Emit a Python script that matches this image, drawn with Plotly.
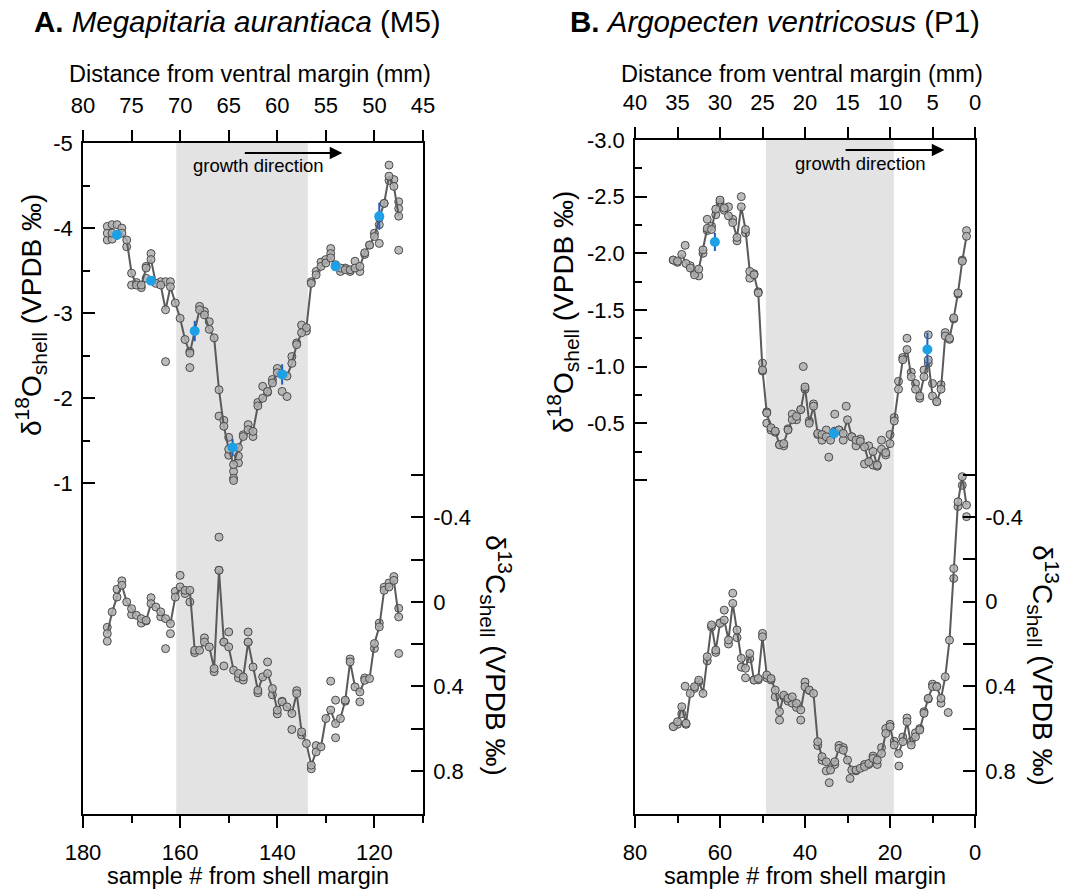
import plotly.graph_objects as go

W, H = 1069, 892

# ---------------- DATA ----------------
# Panel A : Megapitaria aurantiaca (M5) -- sample numbers (line/mean series)
a_samples = list(range(175, 114, -1))
a_d18o = [-3.94, -3.94, -3.92, -3.94, -3.86, -3.47, -3.33, -3.33, -3.53, -3.63,
          -3.35, -3.33, -3.04, -3.31, -3.12, -2.94, -2.69, -2.53, -2.79, -3.04,
          -2.98, -2.81, -2.71, -2.10, -1.67, -1.40, -1.22, -1.42, -1.55, -1.63,
          -1.61, -1.91, -2.00, -2.08, -2.18, -2.30, -2.28, -2.26, -2.41, -2.63,
          -2.77, -2.83, -3.35, -3.45, -3.55, -3.59, -3.65, -3.55, -3.53, -3.51,
          -3.51, -3.53, -3.55, -3.71, -3.80, -3.90, -4.12, -4.29, -4.61, -4.49,
          -4.14]
a_d13c = [0.15, 0.047, -0.023, -0.079, 0.0, 0.032, 0.063, 0.079, 0.087, 0.008,
          0.024, 0.047, 0.079, 0.103, -0.023, -0.071, -0.055, -0.055, 0.229, 0.229,
          0.19, 0.213, 0.315, -0.15, 0.19, 0.213, 0.323, 0.339, 0.355, 0.19,
          0.308, 0.418, 0.355, 0.339, 0.41, 0.512, 0.473, 0.497, 0.528, 0.434,
          0.615, 0.67, 0.773, 0.71, 0.686, 0.552, 0.512, 0.576, 0.552, 0.465,
          0.284, 0.402, 0.426, 0.371, 0.363, 0.197, 0.118, -0.055, -0.071, -0.102,
          0.071]
# replicate measurements (A)
a_rep_o_s = [175, 175, 174, 174, 173, 172, 171, 170, 169, 168, 167, 167, 166, 164, 163, 163,
             162, 158, 158, 156, 155, 154, 152, 151, 150, 150, 149, 149, 148, 148, 147, 146,
             145, 144, 143, 142, 141, 140, 139, 138, 137, 136, 135, 134, 133, 132, 131, 130,
             129, 129, 128, 127, 126, 125, 124, 123, 122, 121, 120, 119, 119, 118, 117, 117,
             116, 115, 115, 115]
a_rep_o_v = [-4.02, -3.86, -4.04, -3.87, -4.04, -4.00, -3.78, -3.33, -3.36, -3.30, -3.41, -3.55,
             -3.70, -3.37, -3.37, -2.43, -3.37, -2.36, -2.55, -3.08, -3.02, -2.90, -1.79, -1.74,
             -1.54, -1.33, -1.14, -1.06, -1.24, -1.32, -1.57, -1.69, -1.55, -1.95, -2.14, -2.07,
             -2.22, -2.35, -2.08, -2.02, -2.49, -2.65, -2.86, -2.79, -3.37, -3.49, -3.60, -3.63,
             -3.76, -3.70, -3.57, -3.49, -3.53, -3.49, -3.61, -3.49, -3.69, -3.80, -3.94, -4.04,
             -3.82, -4.29, -4.56, -4.74, -4.57, -4.31, -4.23, -3.74]
a_rep_c_s = [175, 175, 173, 172, 170, 168, 167, 166, 164, 163, 162, 161, 160, 159, 158, 157,
             155, 153, 152, 152, 149, 151, 151, 150, 148, 147, 146, 146, 144, 142, 141, 140,
             139, 137, 136, 135, 133, 132, 129, 128, 128, 126, 125, 123, 122, 120, 119, 118,
             117, 116, 115, 115]
a_rep_c_v = [0.186, 0.12, -0.06, -0.10, 0.06, 0.10, 0.09, -0.02, 0.07, 0.221, 0.15, -0.05,
             -0.126, -0.04, 0.0, 0.24, 0.17, 0.33, -0.307, -0.15, -0.575, 0.303, 0.19, 0.142,
             0.36, 0.37, 0.142, 0.19, 0.43, 0.284, 0.44, 0.53, 0.47, 0.604, 0.42, 0.63,
             0.79, 0.68, 0.375, 0.643, 0.465, 0.47, 0.27, 0.473, 0.36, 0.22, 0.10, -0.07,
             -0.09, -0.12, 0.03, 0.244]
# standards / mean values with error bars (A, d18O)
a_blue_s = [173, 166, 157, 149.2, 139, 128, 119]
a_blue_v = [-3.92, -3.38, -2.79, -1.42, -2.28, -3.55, -4.14]
a_blue_err = [0.06, 0.05, 0.12, 0.10, 0.12, 0.05, 0.16]

# Panel B : Argopecten ventricosus (P1)
b_samples = list(range(71, 1, -1))
b_d18o = [-1.94, -1.93, -1.99, -1.91, -1.87, -1.81, -1.86, -2.03, -2.22, -2.21,
          -2.39, -2.47, -2.40, -2.33, -2.27, -2.14, -2.41, -2.21, -1.84, -1.81,
          -1.65, -0.97, -0.59, -0.46, -0.43, -0.31, -0.32, -0.44, -0.53, -0.56,
          -0.62, -0.82, -0.50, -0.65, -0.41, -0.40, -0.38, -0.35, -0.43, -0.44,
          -0.41, -0.53, -0.38, -0.35, -0.34, -0.29, -0.16, -0.25, -0.13, -0.27,
          -0.24, -0.32, -0.52, -0.80, -1.06, -1.15, -0.91, -0.80, -0.74, -0.91,
          -1.06, -0.74, -0.69, -0.80, -1.27, -1.25, -1.43, -1.65, -1.93, -2.15]
b_d13c = [0.591, 0.568, 0.497, 0.575, 0.434, 0.402, 0.371, 0.434, 0.26, 0.11,
          0.229, 0.103, 0.087, 0.181, 0.008, 0.134, 0.268, 0.315, 0.245, 0.371,
          0.363, 0.166, 0.347, 0.363, 0.418, 0.52, 0.442, 0.457, 0.45, 0.481,
          0.512, 0.402, 0.418, 0.434, 0.662, 0.733, 0.757, 0.796, 0.757, 0.694,
          0.702, 0.749, 0.796, 0.796, 0.788, 0.78, 0.765, 0.741, 0.749, 0.718,
          0.623, 0.591, 0.678, 0.718, 0.662, 0.568, 0.678, 0.639, 0.607, 0.528,
          0.457, 0.402, 0.402, 0.457, 0.355, 0.182, -0.157, -0.472, -0.591, -0.457]
b_rep_o_s = [71, 70, 68.2, 67, 66, 65, 64, 63, 63, 62, 61, 60, 59, 58, 57, 56, 55, 54, 53, 52,
             51, 50, 50, 49, 49, 48, 47, 46, 45, 44, 43, 42, 41, 40.4, 40, 39, 38, 37, 36, 35,
             34.4, 33, 32, 31, 30.3, 29, 28, 27, 26, 25, 24, 23, 22, 21, 20, 19, 18, 17, 16, 15,
             14, 13, 12, 11, 11, 10, 9, 8, 7, 6, 5, 4, 3, 2]
b_rep_o_v = [-1.94, -1.92, -2.07, -1.89, -1.83, -1.80, -2.00, -2.30, -2.20, -2.24, -2.34, -2.45,
             -2.38, -2.41, -2.30, -2.11, -2.50, -2.18, -1.78, -1.82, -1.66, -1.03, -0.96, -0.60,
             -0.50, -0.44, -0.42, -0.31, -0.30, -0.45, -0.58, -0.53, -0.62, -1.00, -0.80, -0.52,
             -0.67, -0.40, -0.35, -0.44, -0.20, -0.58, -0.44, -0.35, -0.65, -0.38, -0.30, -0.36,
             -0.14, -0.30, -0.13, -0.12, -0.35, -0.22, -0.40, -0.55, -0.87, -1.08, -1.25, -0.95,
             -0.85, -0.72, -0.97, -1.28, -1.03, -0.85, -0.69, -0.84, -1.30, -1.24, -1.42, -1.64,
             -1.94, -2.20]
b_rep_c_s = [71, 70, 69, 68, 68.2, 66, 65, 63, 62, 61, 60, 59, 58, 57, 56, 55, 54, 53, 52, 51,
             50, 49, 48, 47, 46, 45, 44, 43, 42, 41, 40, 39, 37, 36, 35, 34.3, 33, 32, 31, 29.4,
             28, 26, 25, 24, 23, 22, 21, 20, 19, 17.9, 17, 16, 15, 14, 13, 12, 11, 10, 9, 8,
             6.3, 5, 4, 3, 2]
b_rep_c_v = [0.59, 0.58, 0.53, 0.58, 0.40, 0.41, 0.38, 0.28, 0.12, 0.24, 0.10, 0.04, 0.20,
             -0.04, 0.17, 0.31, 0.36, 0.27, 0.37, 0.37, 0.15, 0.36, 0.37, 0.45, 0.56, 0.45,
             0.47, 0.48, 0.50, 0.56, 0.38, 0.42, 0.68, 0.75, 0.80, 0.856, 0.77, 0.68, 0.69,
             0.836, 0.80, 0.77, 0.77, 0.73, 0.77, 0.69, 0.60, 0.58, 0.66, 0.777, 0.64, 0.55,
             0.66, 0.62, 0.60, 0.52, 0.46, 0.39, 0.40, 0.48, 0.524, -0.11, -0.45, -0.55, -0.402]
b_blue_s = [61.2, 33.2, 11.2]
b_blue_v = [-2.10, -0.41, -1.15]
b_blue_err = [0.08, 0.05, 0.15]

# shaded interval (sample #)
a_shade = [160.8, 133.7]
b_shade = [49.2, 19.1]

# axis ticks
a_x_major = [180, 160, 140, 120]
a_x_minor = [170, 150, 130, 110]
a_top_ticks = [80, 75, 70, 65, 60, 55, 50, 45]
a_o_major = [-5, -4, -3, -2, -1]
a_o_minor = [-4.5, -3.5, -2.5, -1.5]
b_x_major = [80, 60, 40, 20, 0]
b_x_minor = [70, 50, 30, 10]
b_top_ticks = [40, 35, 30, 25, 20, 15, 10, 5, 0]
b_o_major = [-3.0, -2.5, -2.0, -1.5, -1.0, -0.5, 0.0]
b_o_labels = ["-3.0", "-2.5", "-2.0", "-1.5", "-1.0", "-0.5", ""]
b_o_minor = [-2.75, -2.25, -1.75, -1.25, -0.75, -0.25]
c_major = [-0.4, 0.0, 0.4, 0.8]
c_labels = ["-0.4", "0", "0.4", "0.8"]
c_minor = [-0.6, -0.2, 0.2, 0.6]

# ---------------- STYLE ----------------
FONT = "Arial, 'Liberation Sans', Helvetica, sans-serif"
PT_FILL = "rgba(176,176,176,0.85)"
PT_EDGE = "#4a4a4a"
LINE_C = "#5a5a5a"
BLUE = "#1ea0e6"
BLUE_DARK = "#1f5fbf"

def px_x(p):
    return p / W

def px_y(p):
    return (H - p) / H

fig = go.Figure()

def add_panel(xa, ya, ya2, samples, d18o, d13c, ro_s, ro_v, rc_s, rc_v, bs, bv, be):
    mk = dict(size=8, color=PT_FILL, line=dict(color=PT_EDGE, width=1))
    fig.add_trace(go.Scatter(x=ro_s, y=ro_v, mode="markers", marker=mk,
                             xaxis=xa, yaxis=ya, showlegend=False, hoverinfo="skip"))
    fig.add_trace(go.Scatter(x=samples, y=d18o, mode="lines+markers", marker=mk,
                             line=dict(color=LINE_C, width=2),
                             xaxis=xa, yaxis=ya, showlegend=False))
    fig.add_trace(go.Scatter(x=rc_s, y=rc_v, mode="markers", marker=mk,
                             xaxis=xa, yaxis=ya2, showlegend=False, hoverinfo="skip"))
    fig.add_trace(go.Scatter(x=samples, y=d13c, mode="lines+markers", marker=mk,
                             line=dict(color=LINE_C, width=2),
                             xaxis=xa, yaxis=ya2, showlegend=False))
    fig.add_trace(go.Scatter(x=bs, y=bv, mode="markers",
                             marker=dict(size=10, color=BLUE, line=dict(width=0)),
                             error_y=dict(type="data", array=be, color=BLUE_DARK,
                                          thickness=2, width=0),
                             xaxis=xa, yaxis=ya, showlegend=False))

add_panel("x", "y", "y2", a_samples, a_d18o, a_d13c, a_rep_o_s, a_rep_o_v,
          a_rep_c_s, a_rep_c_v, a_blue_s, a_blue_v, a_blue_err)
add_panel("x3", "y3", "y4", b_samples, b_d18o, b_d13c, b_rep_o_s, b_rep_o_v,
          b_rep_c_s, b_rep_c_v, b_blue_s, b_blue_v, b_blue_err)

# invisible traces so the top (distance) axes render
fig.add_trace(go.Scatter(x=[a_top_ticks[0], a_top_ticks[-1]], y=[None, None], mode="markers",
                         xaxis="x2", yaxis="y", showlegend=False, hoverinfo="skip"))
fig.add_trace(go.Scatter(x=[b_top_ticks[0], b_top_ticks[-1]], y=[None, None], mode="markers",
                         xaxis="x4", yaxis="y3", showlegend=False, hoverinfo="skip"))

TF = dict(family=FONT, size=22, color="black")
LW = 1.6

def xbottom(dom, rng, major, minor, anchor):
    return dict(domain=dom, range=rng, anchor=anchor, tickmode="array", tickvals=major,
                ticktext=[str(v) for v in major], ticks="outside", ticklen=12, tickwidth=LW,
                tickcolor="black", automargin=False,
                minor=dict(tickmode="array", tickvals=minor, ticks="outside", ticklen=7,
                           tickwidth=LW, tickcolor="black", showgrid=False),
                showline=True, linecolor="black", linewidth=LW, showgrid=False,
                zeroline=False, tickfont=TF, ticklabelstandoff=6)

def xtop(rng, ticks, overl, anchor):
    return dict(overlaying=overl, side="top", anchor=anchor, range=rng, tickmode="array",
                tickvals=ticks, ticktext=[str(v) for v in ticks], ticks="outside", ticklen=11,
                tickwidth=LW, tickcolor="black", showline=True, linecolor="black",
                linewidth=LW, showgrid=False, zeroline=False, tickfont=TF,
                ticklabelstandoff=8, automargin=False)

def yleft(dom, rng, major, labels, minor, anchor):
    return dict(domain=dom, range=rng, anchor=anchor, tickmode="array", tickvals=major,
                ticktext=labels, ticks="inside", ticklen=12, tickwidth=LW, tickcolor="black",
                minor=dict(tickmode="array", tickvals=minor, ticks="inside", ticklen=7,
                           tickwidth=LW, tickcolor="black", showgrid=False),
                showline=True, linecolor="black", linewidth=LW, showgrid=False,
                zeroline=False, tickfont=TF, ticklabelstandoff=4, automargin=False)

def yright(rng, overl, anchor):
    return dict(overlaying=overl, side="right", anchor=anchor, range=rng, tickmode="array",
                tickvals=c_major, ticktext=c_labels, ticks="inside", ticklen=12,
                tickwidth=LW, tickcolor="black", automargin=False,
                minor=dict(tickmode="array", tickvals=c_minor, ticks="inside", ticklen=12,
                           tickwidth=LW, tickcolor="black", showgrid=False),
                showline=True, linecolor="black", linewidth=LW, showgrid=False,
                zeroline=False, tickfont=TF, ticklabelstandoff=4)

ybot = px_y(814)
a_dom_y = [ybot, px_y(143)]
b_dom_y = [ybot, px_y(140)]

fig.update_layout(
    width=W, height=H, margin=dict(l=0, r=0, t=0, b=0, pad=0, autoexpand=False),
    autosize=False,
    paper_bgcolor="white", plot_bgcolor="rgba(0,0,0,0)",
    font=dict(family=FONT, color="black"),
    xaxis=xbottom([px_x(83), px_x(423)], [180, 110], a_x_major, a_x_minor, "y"),
    xaxis2=xtop([80, 45], a_top_ticks, "x", "y"),
    yaxis=yleft(a_dom_y, [2.887, -5.0], a_o_major, [str(v) for v in a_o_major], a_o_minor, "x"),
    yaxis2=yright([1.004, -2.173], "y", "x"),
    xaxis3=xbottom([px_x(635), px_x(975)], [80, 0], b_x_major, b_x_minor, "y3"),
    xaxis4=xtop([40, 0], b_top_ticks, "x3", "y3"),
    yaxis3=yleft(b_dom_y, [2.95, -3.0], b_o_major, b_o_labels, b_o_minor, "x3"),
    yaxis4=yright([1.004, -2.183], "y3", "x3"),
)

# shaded intervals
fig.add_shape(type="rect", xref="x", yref="y domain", x0=a_shade[0], x1=a_shade[1], y0=0, y1=1,
              fillcolor="#e3e3e3", line=dict(width=0), layer="below")
fig.add_shape(type="rect", xref="x3", yref="y3 domain", x0=b_shade[0], x1=b_shade[1], y0=0, y1=1,
              fillcolor="#e3e3e3", line=dict(width=0), layer="below")

ann = []
# panel titles
ann.append(dict(text="<b>A.</b> <i>Megapitaria aurantiaca</i> (M5)", x=px_x(237), y=px_y(22),
                font=dict(size=29.5)))
ann.append(dict(text="<b>B.</b> <i>Argopecten ventricosus</i> (P1)", x=px_x(775), y=px_y(22),
                font=dict(size=29.5)))
# top axis titles
ann.append(dict(text="Distance from ventral margin (mm)", x=px_x(250), y=px_y(74), font=dict(size=23.5)))
ann.append(dict(text="Distance from ventral margin (mm)", x=px_x(802), y=px_y(74), font=dict(size=23.5)))
# bottom axis titles
ann.append(dict(text="sample # from shell margin", x=px_x(248), y=px_y(876), font=dict(size=23.5)))
ann.append(dict(text="sample # from shell margin", x=px_x(805), y=px_y(876), font=dict(size=23.5)))
# y titles
SUPSZ = "<span style='font-size:21px'>"
o_title = "δ<sup>" + SUPSZ + "18</span></sup>O<sub>" + SUPSZ + "shell</span></sub> (VPDB ‰)"
c_title = "δ<sup>" + SUPSZ + "13</span></sup>C<sub>" + SUPSZ + "shell</span></sub> (VPDB ‰)"
ann.append(dict(text=o_title, x=px_x(31), y=px_y(315), textangle=-90, font=dict(size=28)))
ann.append(dict(text=o_title, x=px_x(562), y=px_y(312), textangle=-90, font=dict(size=28)))
ann.append(dict(text=c_title, x=px_x(497), y=px_y(655), textangle=90, font=dict(size=28)))
ann.append(dict(text=c_title, x=px_x(1044), y=px_y(665), textangle=90, font=dict(size=28)))
# growth direction labels
ann.append(dict(text="growth direction", x=px_x(258), y=px_y(166), font=dict(size=18.5)))
ann.append(dict(text="growth direction", x=px_x(860), y=px_y(164), font=dict(size=18.5)))

for a in ann:
    a.update(xref="paper", yref="paper", showarrow=False, xanchor="center", yanchor="middle")
    a["font"].update(family=FONT, color="black")
    fig.add_annotation(**a)

# growth direction arrows (in distance-axis units)
fig.add_annotation(x=53.3, y=px_y(153), xref="x2", yref="paper", ax=63.5, ay=0, axref="x2",
                   ayref="pixel", text="", showarrow=True, arrowhead=2, arrowsize=1.4,
                   arrowwidth=1.8, arrowcolor="black")
fig.add_annotation(x=3.6, y=px_y(150), xref="x4", yref="paper", ax=15.4, ay=0, axref="x4",
                   ayref="pixel", text="", showarrow=True, arrowhead=2, arrowsize=1.4,
                   arrowwidth=1.8, arrowcolor="black")

fig.write_html("out.html", config={"displayModeBar": False},
               post_script="document.body.style.margin='0';document.body.style.padding='0';")
